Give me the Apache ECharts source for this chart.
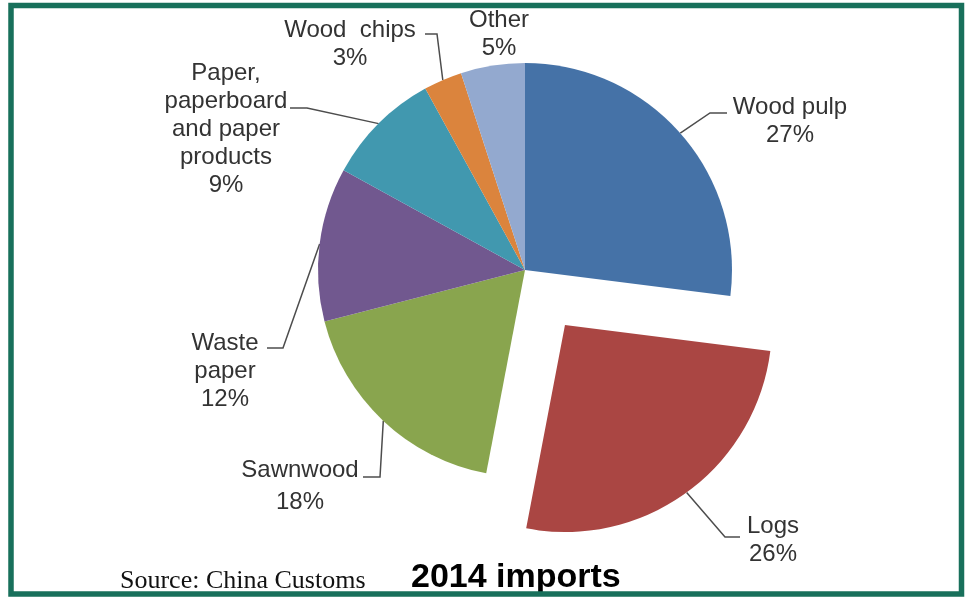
<!DOCTYPE html>
<html>
<head>
<meta charset="utf-8">
<script src="https://cdn.jsdelivr.net/npm/echarts@6/dist/echarts.min.js"></script>
<style>
html,body{margin:0;padding:0;background:#ffffff;}
#chart{width:969px;height:597px;}
</style>
</head>
<body>
<div id="chart"></div>
<script>
// ---- data ----
const categories = ['Wood pulp', 'Logs', 'Sawnwood', 'Waste paper', 'Paper, paperboard and paper products', 'Wood chips', 'Other'];
const labelTexts = ['Wood pulp', 'Logs', 'Sawnwood', 'Waste\npaper', 'Paper,\npaperboard\nand paper\nproducts', 'Wood  chips', 'Other'];
const shares = [27, 26, 18, 12, 9, 3, 5];
const explodedCategory = 'Logs';
const sourceText = 'Source: China Customs';
const titleText = '2014 imports';

// ---- styling / layout ----
const colors = ['#4572A7', '#AA4643', '#89A54E', '#71588F', '#4198AF', '#DB843D', '#93A9CF'];
const CX = 525, CY = 270, R = 207, EXPLODE = 68;

// label block placement and leader-line elbows
const labelPlace = [
  {x: 790, y: 121, elbow: [710, 113], end: [727, 113]},
  {x: 773, y: 540, elbow: [725, 537], end: [740, 537]},
  {x: 300, y: 486, elbow: [380, 477], end: [363, 477], lh: 32},
  {x: 225, y: 371, elbow: [283, 348], end: [267, 348]},
  {x: 226, y: 129, elbow: [307, 108], end: [290, 108]},
  {x: 350, y: 44, elbow: [437, 34], end: [425, 34]},
  {x: 499, y: 34}
];

const total = shares.reduce((a, b) => a + b, 0);
function midAngle(i) {
  let cum = 0;
  for (let j = 0; j < i; j++) cum += shares[j];
  return (cum + shares[i] / 2) / total * 2 * Math.PI;
}
const explodeIdx = categories.indexOf(explodedCategory);
const exTh = midAngle(explodeIdx);
const EX_CX = CX + EXPLODE * Math.sin(exTh);
const EX_CY = CY - EXPLODE * Math.cos(exTh);

function edgePoint(i) {
  const th = midAngle(i);
  const cx = i === explodeIdx ? EX_CX : CX;
  const cy = i === explodeIdx ? EX_CY : CY;
  return [cx + R * Math.sin(th), cy - R * Math.cos(th)];
}

function buildData(forExploded) {
  return categories.map((name, i) => {
    const visible = (i === explodeIdx) === forExploded;
    const item = {
      name: name,
      value: shares[i],
      itemStyle: {color: visible ? colors[i] : 'rgba(0,0,0,0)'}
    };
    if (!visible) {
      item.label = {show: false};
      item.labelLine = {show: false};
    } else {
      if (labelPlace[i].lh) item.label = {lineHeight: labelPlace[i].lh};
      if (!labelPlace[i].elbow) item.labelLine = {show: false};
    }
    return item;
  });
}

function makeSeries(center, forExploded, z) {
  return {
    type: 'pie',
    z: z,
    center: center,
    radius: [0, R],
    startAngle: 90,
    clockwise: true,
    avoidLabelOverlap: false,
    silent: true,
    emphasis: {disabled: true},
    itemStyle: {borderWidth: 0},
    label: {
      show: true,
      position: 'outside',
      fontFamily: 'Liberation Sans, Arial, sans-serif',
      fontSize: 24,
      lineHeight: 28,
      color: '#333333',
      align: 'center',
      formatter: function (p) {
        return labelTexts[p.dataIndex] + '\n' + Math.round(p.percent) + '%';
      }
    },
    labelLine: {
      show: true,
      lineStyle: {color: '#4d4d4d', width: 1.5}
    },
    labelLayout: function (p) {
      const i = p.dataIndex;
      const L = labelPlace[i];
      const o = {x: L.x, y: L.y, align: 'center', verticalAlign: 'middle'};
      if (L.elbow) o.labelLinePoints = [edgePoint(i), L.elbow.slice(), L.end.slice()];
      return o;
    },
    data: buildData(forExploded)
  };
}

const chart = echarts.init(document.getElementById('chart'), null, {renderer: 'canvas'});
chart.setOption({
  animation: false,
  backgroundColor: '#ffffff',
  series: [
    makeSeries([CX, CY], false, 2),
    makeSeries([EX_CX, EX_CY], true, 3)
  ],
  graphic: [
    {
      type: 'text',
      left: 120,
      top: 568,
      z: 50,
      style: {
        text: sourceText,
        font: '26px "Liberation Serif", "Times New Roman", serif',
        fill: '#111111'
      }
    },
    {
      type: 'text',
      left: 411,
      top: 561,
      z: 50,
      style: {
        text: titleText,
        font: 'bold 34px "Liberation Sans", Arial, sans-serif',
        fill: '#000000'
      }
    },
    {
      type: 'rect',
      z: 100,
      shape: {x: 11, y: 5.5, width: 950.5, height: 588.5},
      style: {fill: 'none', stroke: '#18705B', lineWidth: 5.5}
    }
  ]
});
</script>
</body>
</html>
